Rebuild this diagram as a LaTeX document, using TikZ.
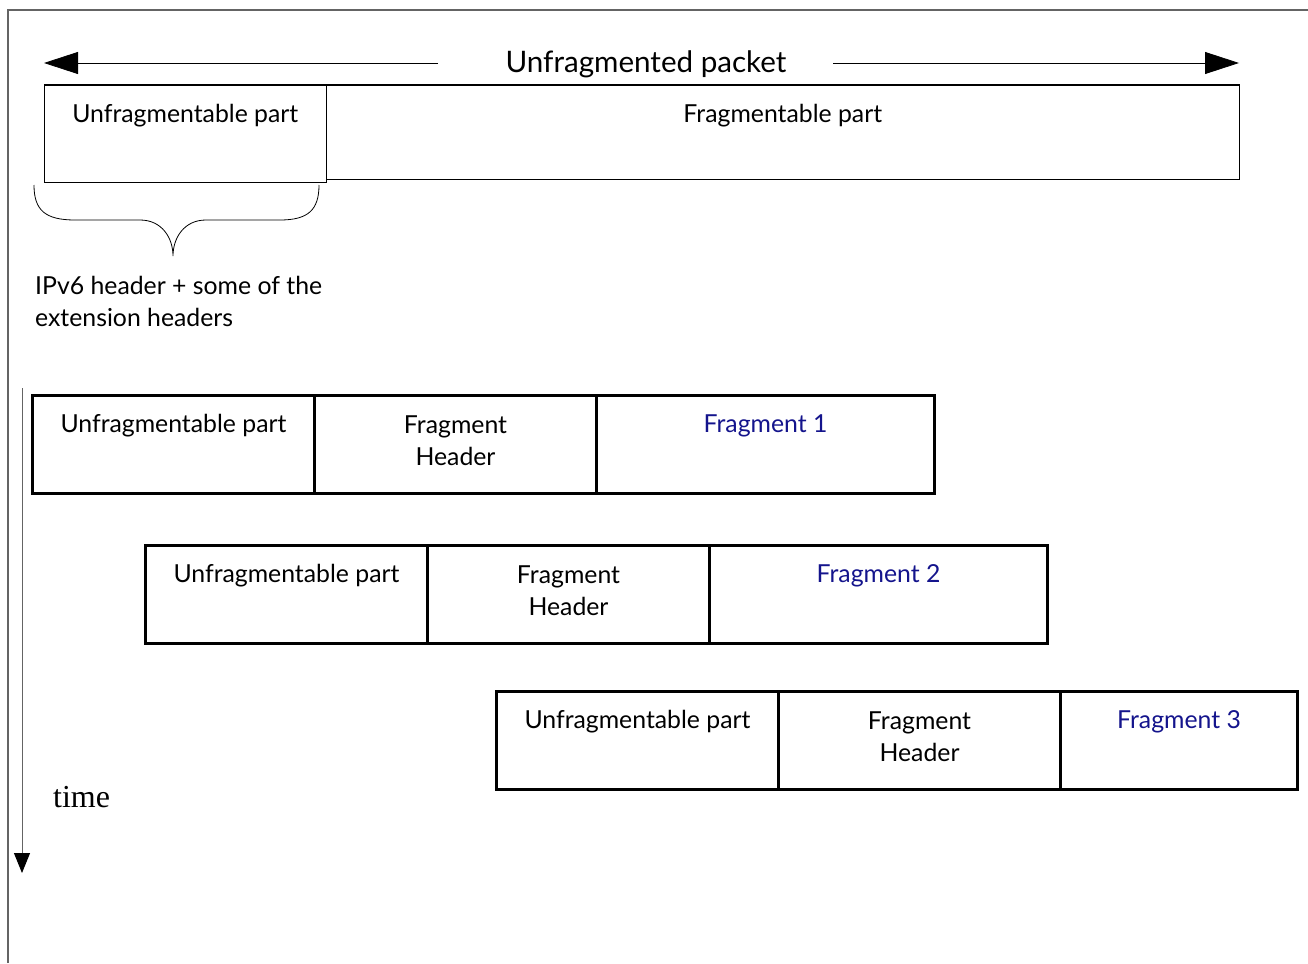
\documentclass[tikz,border=0pt]{standalone}
\usepackage{fontspec}
\setmainfont{Lato}
\newfontfamily\timefont{Liberation Serif}
\usetikzlibrary{arrows.meta}
\definecolor{fragblue}{RGB}{20,20,140}
\definecolor{framegray}{RGB}{100,100,100}
\tikzset{
  thinbox/.style={draw, line width=1.6pt, minimum width=282, minimum height=97, inner sep=0pt, anchor=north west},
  thickbox/.style={draw, line width=3pt, minimum height=98, inner sep=0pt, anchor=north west},
  lbl/.style={font=\fontsize{24.8}{32}\selectfont, inner sep=0pt, align=center},
  bluelbl/.style={lbl, text=fragblue},
  bigarrow/.style={line width=0.8pt, -{Triangle[length=34pt,width=22pt]}},
  timearrow/.style={line width=1pt, draw=framegray, -{Triangle[length=20pt,width=16pt,fill=black,color=black]}}
}
\begin{document}
\begin{tikzpicture}[x=1pt,y=-1pt]
\useasboundingbox (0,0) rectangle (1308,963);
% frame
\draw[framegray, line width=1.5pt] (8,963) -- (8,10) -- (1308,10);

% top packet
\node[thinbox] (u0) at (43.5,84.5) {};
\node[draw, line width=1.6pt, minimum width=913, minimum height=94, inner sep=0pt, anchor=north west] (f0) at (325.5,84.5) {};
\node[lbl] at ([yshift=-31.5]u0.north) {Unfragmentable part};
\node[lbl] at ([yshift=-31.5]f0.north) {Fragmentable part};

\node[font=\fontsize{29.6}{32}\selectfont, inner sep=0pt] (title) at (646,64) {Unfragmented packet};
\coordinate (la) at (438,63);
\coordinate (lt) at (44,63);
\coordinate (ra) at (833,63);
\coordinate (rt) at (1239,63);
\draw[bigarrow] (la) -- (lt);
\draw[bigarrow] (ra) -- (rt);

% brace
\draw[line width=0.8pt] (34,185) .. controls (34,210) and (45,220) .. (75,220) -- (140,220)
  .. controls (162,220) and (173,238) .. (173,256)
  .. controls (173,238) and (184,220) .. (206,220) -- (280,220)
  .. controls (308,220) and (319,210) .. (319,185);
\node[lbl, align=left, anchor=north west] (ipv6) at (35,276) {IPv6 header + some of the\\extension headers};

% time arrow
\coordinate (ts) at (22,388);
\coordinate (te) at (22,873);
\draw[timearrow] (ts) -- (te);
\node[font=\timefont\fontsize{32}{32}\selectfont, inner sep=0pt, anchor=west] (time) at (53,797) {time};

% row 1
\node[thickbox, minimum width=282] (u1) at (31,393.5) {};
\node[thickbox, minimum width=282] (h1) at (313,393.5) {};
\node[thickbox, minimum width=338] (g1) at (595,393.5) {};
% row 2
\node[thickbox, minimum width=282] (u2) at (144,543.5) {};
\node[thickbox, minimum width=282] (h2) at (426,543.5) {};
\node[thickbox, minimum width=338] (g2) at (708,543.5) {};
% row 3
\node[thickbox, minimum width=282] (u3) at (495,689.5) {};
\node[thickbox, minimum width=282] (h3) at (777,689.5) {};
\node[thickbox, minimum width=237] (g3) at (1059,689.5) {};

\foreach \r/\n in {1/1,2/2,3/3}{
  \node[lbl] at ([yshift=-32]u\r.north) {Unfragmentable part};
  \node[lbl] at ([yshift=-47]h\r.north) {Fragment\\Header};
  \node[bluelbl] at ([yshift=-32]g\r.north) {Fragment \n};
}
\end{tikzpicture}
\end{document}
